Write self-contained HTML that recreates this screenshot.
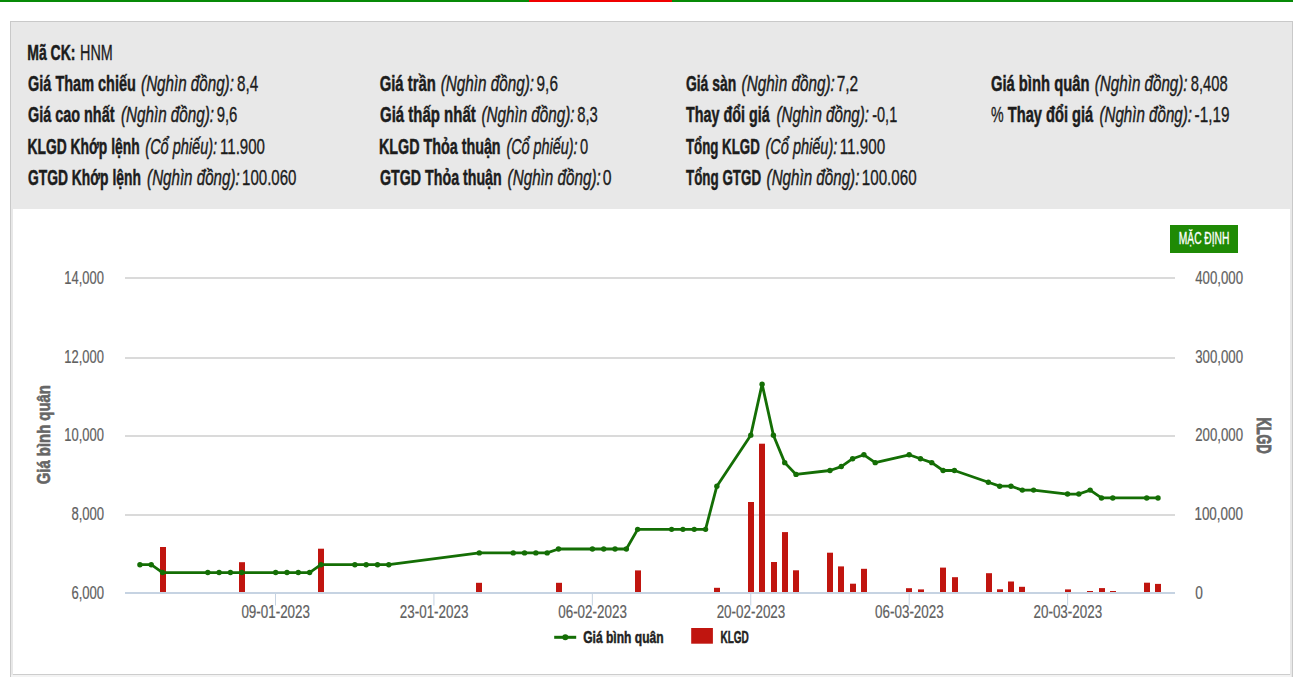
<!DOCTYPE html>
<html><head><meta charset="utf-8"><style>
html,body{margin:0;padding:0;background:#fff;width:1293px;height:677px;overflow:hidden;position:relative}
.abs{position:absolute}
svg text{font-family:"Liberation Sans", sans-serif}
</style></head><body>
<div class="abs" style="left:0;top:0;width:1293px;height:2px;background:#078a07"></div>
<div class="abs" style="left:529px;top:0;width:143px;height:2px;background:#f00000"></div>
<div class="abs" style="left:10px;top:21px;width:1281px;height:660px;border:1px solid #c9c9c9;background:#e8e8e8"></div>
<div class="abs" style="left:13px;top:209px;width:1277px;height:465px;background:#fff;border-bottom:1px solid #cdcdcd"></div>
<div class="abs" style="left:11px;top:675px;width:1280px;height:2px;background:#f3f3f3"></div>
<div class="abs" style="left:1170px;top:225px;width:68px;height:28px;background:#1f8a05"></div>
<svg class="abs" style="left:0;top:0" width="1293" height="677">
<g fill="#dadada"><rect x="125" y="277" width="1050" height="2"/><rect x="125" y="357" width="1050" height="2"/><rect x="125" y="435" width="1050" height="2"/><rect x="125" y="514" width="1050" height="2"/></g>
<g fill="#c0150f"><rect x="160" y="547.00" width="6" height="45.00"/><rect x="239" y="562.20" width="6" height="29.80"/><rect x="318" y="548.70" width="6" height="43.30"/><rect x="476" y="582.80" width="6" height="9.20"/><rect x="556" y="582.80" width="6" height="9.20"/><rect x="635" y="570.40" width="6" height="21.60"/><rect x="714" y="587.80" width="6" height="4.20"/><rect x="748" y="502.00" width="6" height="90.00"/><rect x="759" y="443.70" width="6" height="148.30"/><rect x="771" y="562.00" width="6" height="30.00"/><rect x="782" y="532.10" width="6" height="59.90"/><rect x="793" y="570.30" width="6" height="21.70"/><rect x="827" y="552.70" width="6" height="39.30"/><rect x="838" y="566.40" width="6" height="25.60"/><rect x="850" y="583.70" width="6" height="8.30"/><rect x="861" y="568.80" width="6" height="23.20"/><rect x="906" y="588.20" width="6" height="3.80"/><rect x="918" y="589.40" width="6" height="2.60"/><rect x="940" y="567.60" width="6" height="24.40"/><rect x="952" y="577.20" width="6" height="14.80"/><rect x="986" y="573.20" width="6" height="18.80"/><rect x="997" y="589.30" width="6" height="2.70"/><rect x="1008" y="581.50" width="6" height="10.50"/><rect x="1019" y="586.80" width="6" height="5.20"/><rect x="1065" y="589.40" width="6" height="2.60"/><rect x="1087" y="591.00" width="6" height="1.00"/><rect x="1099" y="588.10" width="6" height="3.90"/><rect x="1110" y="591.00" width="6" height="1.00"/><rect x="1144" y="582.70" width="6" height="9.30"/><rect x="1155" y="583.90" width="6" height="8.10"/></g>
<rect x="125" y="592" width="1050" height="2" fill="#c6d3e2"/>
<g fill="#c6d3e2"><rect x="275.00" y="593" width="1" height="12.5"/><rect x="433.42" y="593" width="1" height="12.5"/><rect x="591.84" y="593" width="1" height="12.5"/><rect x="750.26" y="593" width="1" height="12.5"/><rect x="908.68" y="593" width="1" height="12.5"/><rect x="1067.10" y="593" width="1" height="12.5"/></g>
<path d="M139.93 564.69 L151.25 564.69 L162.56 572.54 L207.81 572.54 L219.12 572.54 L230.43 572.54 L241.74 572.54 L275.68 572.54 L286.99 572.54 L298.30 572.54 L309.62 572.54 L320.93 564.69 L354.87 564.69 L366.18 564.69 L377.49 564.69 L388.80 564.69 L479.30 552.91 L513.24 552.91 L524.55 552.91 L535.86 552.91 L547.17 552.91 L558.49 548.99 L592.42 548.99 L603.73 548.99 L615.05 548.99 L626.36 548.99 L637.67 529.36 L671.61 529.36 L682.92 529.36 L694.23 529.36 L705.54 529.36 L716.86 486.19 L750.79 435.17 L762.10 384.15 L773.42 435.17 L784.73 462.64 L796.04 474.42 L829.98 470.49 L841.29 466.57 L852.60 458.72 L863.91 454.80 L875.23 462.64 L909.16 454.80 L920.48 458.72 L931.79 462.64 L943.10 470.49 L954.41 470.49 L988.35 482.27 L999.66 486.19 L1010.97 486.19 L1022.29 490.12 L1033.60 490.12 L1067.53 494.04 L1078.85 494.04 L1090.16 490.12 L1101.47 497.97 L1112.78 497.97 L1146.72 497.97 L1158.03 497.97" fill="none" stroke="#146e05" stroke-width="2.8" stroke-linejoin="round"/>
<g fill="#146e05"><circle cx="139.93" cy="564.69" r="2.7"/><circle cx="151.25" cy="564.69" r="2.7"/><circle cx="162.56" cy="572.54" r="2.7"/><circle cx="207.81" cy="572.54" r="2.7"/><circle cx="219.12" cy="572.54" r="2.7"/><circle cx="230.43" cy="572.54" r="2.7"/><circle cx="241.74" cy="572.54" r="2.7"/><circle cx="275.68" cy="572.54" r="2.7"/><circle cx="286.99" cy="572.54" r="2.7"/><circle cx="298.30" cy="572.54" r="2.7"/><circle cx="309.62" cy="572.54" r="2.7"/><circle cx="320.93" cy="564.69" r="2.7"/><circle cx="354.87" cy="564.69" r="2.7"/><circle cx="366.18" cy="564.69" r="2.7"/><circle cx="377.49" cy="564.69" r="2.7"/><circle cx="388.80" cy="564.69" r="2.7"/><circle cx="479.30" cy="552.91" r="2.7"/><circle cx="513.24" cy="552.91" r="2.7"/><circle cx="524.55" cy="552.91" r="2.7"/><circle cx="535.86" cy="552.91" r="2.7"/><circle cx="547.17" cy="552.91" r="2.7"/><circle cx="558.49" cy="548.99" r="2.7"/><circle cx="592.42" cy="548.99" r="2.7"/><circle cx="603.73" cy="548.99" r="2.7"/><circle cx="615.05" cy="548.99" r="2.7"/><circle cx="626.36" cy="548.99" r="2.7"/><circle cx="637.67" cy="529.36" r="2.7"/><circle cx="671.61" cy="529.36" r="2.7"/><circle cx="682.92" cy="529.36" r="2.7"/><circle cx="694.23" cy="529.36" r="2.7"/><circle cx="705.54" cy="529.36" r="2.7"/><circle cx="716.86" cy="486.19" r="2.7"/><circle cx="750.79" cy="435.17" r="2.7"/><circle cx="762.10" cy="384.15" r="2.7"/><circle cx="773.42" cy="435.17" r="2.7"/><circle cx="784.73" cy="462.64" r="2.7"/><circle cx="796.04" cy="474.42" r="2.7"/><circle cx="829.98" cy="470.49" r="2.7"/><circle cx="841.29" cy="466.57" r="2.7"/><circle cx="852.60" cy="458.72" r="2.7"/><circle cx="863.91" cy="454.80" r="2.7"/><circle cx="875.23" cy="462.64" r="2.7"/><circle cx="909.16" cy="454.80" r="2.7"/><circle cx="920.48" cy="458.72" r="2.7"/><circle cx="931.79" cy="462.64" r="2.7"/><circle cx="943.10" cy="470.49" r="2.7"/><circle cx="954.41" cy="470.49" r="2.7"/><circle cx="988.35" cy="482.27" r="2.7"/><circle cx="999.66" cy="486.19" r="2.7"/><circle cx="1010.97" cy="486.19" r="2.7"/><circle cx="1022.29" cy="490.12" r="2.7"/><circle cx="1033.60" cy="490.12" r="2.7"/><circle cx="1067.53" cy="494.04" r="2.7"/><circle cx="1078.85" cy="494.04" r="2.7"/><circle cx="1090.16" cy="490.12" r="2.7"/><circle cx="1101.47" cy="497.97" r="2.7"/><circle cx="1112.78" cy="497.97" r="2.7"/><circle cx="1146.72" cy="497.97" r="2.7"/><circle cx="1158.03" cy="497.97" r="2.7"/></g>
<g><rect x="554.2" y="635.8" width="22" height="3" fill="#146e05"/><circle cx="565.3" cy="637.3" r="3" fill="#146e05"/>
<rect x="691.2" y="628" width="21.7" height="15.7" fill="#c0150f"/></g>
<text transform="translate(50.3,434.7) rotate(-90)" text-anchor="middle" font-size="17.5" font-weight="bold" fill="#666" stroke="#666" stroke-width="0.6" textLength="99" lengthAdjust="spacingAndGlyphs">Giá bình quân</text>
<text transform="translate(1256.8,435.6) rotate(90)" text-anchor="middle" font-size="21" font-weight="bold" fill="#666" stroke="#666" stroke-width="0.9" textLength="36" lengthAdjust="spacingAndGlyphs">KLGD</text>
<text x="27.26" y="59.60" font-size="22" font-weight="bold" font-style="normal" fill="#1c1c1c" stroke="#1c1c1c" stroke-width="0.5" textLength="48.23" lengthAdjust="spacingAndGlyphs">Mã CK:</text>
<text x="80.05" y="59.60" font-size="22" font-weight="normal" font-style="normal" fill="#1c1c1c" stroke="#1c1c1c" stroke-width="0.35" textLength="32.68" lengthAdjust="spacingAndGlyphs">HNM</text>
<text x="28.10" y="90.90" font-size="22" font-weight="bold" font-style="normal" fill="#1c1c1c" stroke="#1c1c1c" stroke-width="0.5" textLength="107.74" lengthAdjust="spacingAndGlyphs">Giá Tham chiếu</text>
<text x="141.10" y="90.90" font-size="22" font-weight="normal" font-style="italic" fill="#1c1c1c" stroke="#1c1c1c" stroke-width="0.45" textLength="92.77" lengthAdjust="spacingAndGlyphs">(Nghìn đồng):</text>
<text x="237.00" y="90.90" font-size="22" font-weight="normal" font-style="normal" fill="#1c1c1c" stroke="#1c1c1c" stroke-width="0.35" textLength="21.21" lengthAdjust="spacingAndGlyphs">8,4</text>
<text x="379.70" y="90.90" font-size="22" font-weight="bold" font-style="normal" fill="#1c1c1c" stroke="#1c1c1c" stroke-width="0.5" textLength="56.09" lengthAdjust="spacingAndGlyphs">Giá trần</text>
<text x="440.80" y="90.90" font-size="22" font-weight="normal" font-style="italic" fill="#1c1c1c" stroke="#1c1c1c" stroke-width="0.45" textLength="93.17" lengthAdjust="spacingAndGlyphs">(Nghìn đồng):</text>
<text x="536.60" y="90.90" font-size="22" font-weight="normal" font-style="normal" fill="#1c1c1c" stroke="#1c1c1c" stroke-width="0.35" textLength="21.31" lengthAdjust="spacingAndGlyphs">9,6</text>
<text x="685.90" y="90.90" font-size="22" font-weight="bold" font-style="normal" fill="#1c1c1c" stroke="#1c1c1c" stroke-width="0.5" textLength="50.41" lengthAdjust="spacingAndGlyphs">Giá sàn</text>
<text x="741.60" y="90.90" font-size="22" font-weight="normal" font-style="italic" fill="#1c1c1c" stroke="#1c1c1c" stroke-width="0.45" textLength="93.17" lengthAdjust="spacingAndGlyphs">(Nghìn đồng):</text>
<text x="836.70" y="90.90" font-size="22" font-weight="normal" font-style="normal" fill="#1c1c1c" stroke="#1c1c1c" stroke-width="0.35" textLength="21.52" lengthAdjust="spacingAndGlyphs">7,2</text>
<text x="990.90" y="90.90" font-size="22" font-weight="bold" font-style="normal" fill="#1c1c1c" stroke="#1c1c1c" stroke-width="0.5" textLength="98.55" lengthAdjust="spacingAndGlyphs">Giá bình quân</text>
<text x="1094.80" y="90.90" font-size="22" font-weight="normal" font-style="italic" fill="#1c1c1c" stroke="#1c1c1c" stroke-width="0.45" textLength="92.77" lengthAdjust="spacingAndGlyphs">(Nghìn đồng):</text>
<text x="1190.80" y="90.90" font-size="22" font-weight="normal" font-style="normal" fill="#1c1c1c" stroke="#1c1c1c" stroke-width="0.35" textLength="36.94" lengthAdjust="spacingAndGlyphs">8,408</text>
<text x="28.00" y="122.20" font-size="22" font-weight="bold" font-style="normal" fill="#1c1c1c" stroke="#1c1c1c" stroke-width="0.5" textLength="86.48" lengthAdjust="spacingAndGlyphs">Giá cao nhất</text>
<text x="120.90" y="122.20" font-size="22" font-weight="normal" font-style="italic" fill="#1c1c1c" stroke="#1c1c1c" stroke-width="0.45" textLength="93.17" lengthAdjust="spacingAndGlyphs">(Nghìn đồng):</text>
<text x="216.70" y="122.20" font-size="22" font-weight="normal" font-style="normal" fill="#1c1c1c" stroke="#1c1c1c" stroke-width="0.35" textLength="20.70" lengthAdjust="spacingAndGlyphs">9,6</text>
<text x="380.00" y="122.20" font-size="22" font-weight="bold" font-style="normal" fill="#1c1c1c" stroke="#1c1c1c" stroke-width="0.5" textLength="95.70" lengthAdjust="spacingAndGlyphs">Giá thấp nhất</text>
<text x="481.40" y="122.20" font-size="22" font-weight="normal" font-style="italic" fill="#1c1c1c" stroke="#1c1c1c" stroke-width="0.45" textLength="93.17" lengthAdjust="spacingAndGlyphs">(Nghìn đồng):</text>
<text x="577.20" y="122.20" font-size="22" font-weight="normal" font-style="normal" fill="#1c1c1c" stroke="#1c1c1c" stroke-width="0.35" textLength="20.60" lengthAdjust="spacingAndGlyphs">8,3</text>
<text x="686.00" y="122.20" font-size="22" font-weight="bold" font-style="normal" fill="#1c1c1c" stroke="#1c1c1c" stroke-width="0.5" textLength="83.68" lengthAdjust="spacingAndGlyphs">Thay đổi giá</text>
<text x="776.40" y="122.20" font-size="22" font-weight="normal" font-style="italic" fill="#1c1c1c" stroke="#1c1c1c" stroke-width="0.45" textLength="92.67" lengthAdjust="spacingAndGlyphs">(Nghìn đồng):</text>
<text x="872.20" y="122.20" font-size="22" font-weight="normal" font-style="normal" fill="#1c1c1c" stroke="#1c1c1c" stroke-width="0.35" textLength="25.05" lengthAdjust="spacingAndGlyphs">-0,1</text>
<text x="991.00" y="122.20" font-size="22" font-weight="normal" font-style="normal" fill="#1c1c1c" stroke="#1c1c1c" stroke-width="0.35" textLength="12.62" lengthAdjust="spacingAndGlyphs">%</text>
<text x="1007.80" y="122.20" font-size="22" font-weight="bold" font-style="normal" fill="#1c1c1c" stroke="#1c1c1c" stroke-width="0.5" textLength="85.47" lengthAdjust="spacingAndGlyphs">Thay đổi giá</text>
<text x="1099.50" y="122.20" font-size="22" font-weight="normal" font-style="italic" fill="#1c1c1c" stroke="#1c1c1c" stroke-width="0.45" textLength="92.47" lengthAdjust="spacingAndGlyphs">(Nghìn đồng):</text>
<text x="1194.60" y="122.20" font-size="22" font-weight="normal" font-style="normal" fill="#1c1c1c" stroke="#1c1c1c" stroke-width="0.35" textLength="34.91" lengthAdjust="spacingAndGlyphs">-1,19</text>
<text x="27.47" y="153.50" font-size="22" font-weight="bold" font-style="normal" fill="#1c1c1c" stroke="#1c1c1c" stroke-width="0.5" textLength="112.15" lengthAdjust="spacingAndGlyphs">KLGD Khớp lệnh</text>
<text x="145.30" y="153.50" font-size="22" font-weight="normal" font-style="italic" fill="#1c1c1c" stroke="#1c1c1c" stroke-width="0.45" textLength="71.80" lengthAdjust="spacingAndGlyphs">(Cổ phiếu):</text>
<text x="220.02" y="153.50" font-size="22" font-weight="normal" font-style="normal" fill="#1c1c1c" stroke="#1c1c1c" stroke-width="0.35" textLength="44.95" lengthAdjust="spacingAndGlyphs">11.900</text>
<text x="379.05" y="153.50" font-size="22" font-weight="bold" font-style="normal" fill="#1c1c1c" stroke="#1c1c1c" stroke-width="0.5" textLength="121.54" lengthAdjust="spacingAndGlyphs">KLGD Thỏa thuận</text>
<text x="506.40" y="153.50" font-size="22" font-weight="normal" font-style="italic" fill="#1c1c1c" stroke="#1c1c1c" stroke-width="0.45" textLength="71.20" lengthAdjust="spacingAndGlyphs">(Cổ phiếu):</text>
<text x="580.00" y="153.50" font-size="22" font-weight="normal" font-style="normal" fill="#1c1c1c" stroke="#1c1c1c" stroke-width="0.35" textLength="8.17" lengthAdjust="spacingAndGlyphs">0</text>
<text x="685.90" y="153.50" font-size="22" font-weight="bold" font-style="normal" fill="#1c1c1c" stroke="#1c1c1c" stroke-width="0.5" textLength="73.92" lengthAdjust="spacingAndGlyphs">Tổng KLGD</text>
<text x="765.50" y="153.50" font-size="22" font-weight="normal" font-style="italic" fill="#1c1c1c" stroke="#1c1c1c" stroke-width="0.45" textLength="71.80" lengthAdjust="spacingAndGlyphs">(Cổ phiếu):</text>
<text x="839.71" y="153.50" font-size="22" font-weight="normal" font-style="normal" fill="#1c1c1c" stroke="#1c1c1c" stroke-width="0.35" textLength="45.45" lengthAdjust="spacingAndGlyphs">11.900</text>
<text x="28.00" y="184.80" font-size="22" font-weight="bold" font-style="normal" fill="#1c1c1c" stroke="#1c1c1c" stroke-width="0.5" textLength="112.86" lengthAdjust="spacingAndGlyphs">GTGD Khớp lệnh</text>
<text x="147.10" y="184.80" font-size="22" font-weight="normal" font-style="italic" fill="#1c1c1c" stroke="#1c1c1c" stroke-width="0.45" textLength="92.57" lengthAdjust="spacingAndGlyphs">(Nghìn đồng):</text>
<text x="242.02" y="184.80" font-size="22" font-weight="normal" font-style="normal" fill="#1c1c1c" stroke="#1c1c1c" stroke-width="0.35" textLength="54.45" lengthAdjust="spacingAndGlyphs">100.060</text>
<text x="380.00" y="184.80" font-size="22" font-weight="bold" font-style="normal" fill="#1c1c1c" stroke="#1c1c1c" stroke-width="0.5" textLength="121.73" lengthAdjust="spacingAndGlyphs">GTGD Thỏa thuận</text>
<text x="507.60" y="184.80" font-size="22" font-weight="normal" font-style="italic" fill="#1c1c1c" stroke="#1c1c1c" stroke-width="0.45" textLength="93.17" lengthAdjust="spacingAndGlyphs">(Nghìn đồng):</text>
<text x="602.70" y="184.80" font-size="22" font-weight="normal" font-style="normal" fill="#1c1c1c" stroke="#1c1c1c" stroke-width="0.35" textLength="8.78" lengthAdjust="spacingAndGlyphs">0</text>
<text x="686.00" y="184.80" font-size="22" font-weight="bold" font-style="normal" fill="#1c1c1c" stroke="#1c1c1c" stroke-width="0.5" textLength="75.06" lengthAdjust="spacingAndGlyphs">Tổng GTGD</text>
<text x="766.60" y="184.80" font-size="22" font-weight="normal" font-style="italic" fill="#1c1c1c" stroke="#1c1c1c" stroke-width="0.45" textLength="92.77" lengthAdjust="spacingAndGlyphs">(Nghìn đồng):</text>
<text x="861.81" y="184.80" font-size="22" font-weight="normal" font-style="normal" fill="#1c1c1c" stroke="#1c1c1c" stroke-width="0.35" textLength="54.86" lengthAdjust="spacingAndGlyphs">100.060</text>
<text x="64.36" y="283.90" font-size="17.5" font-weight="normal" font-style="normal" fill="#606060" stroke="#606060" stroke-width="0.2" textLength="39.59" lengthAdjust="spacingAndGlyphs">14,000</text>
<text x="64.36" y="363.10" font-size="17.5" font-weight="normal" font-style="normal" fill="#606060" stroke="#606060" stroke-width="0.2" textLength="39.59" lengthAdjust="spacingAndGlyphs">12,000</text>
<text x="64.36" y="441.20" font-size="17.5" font-weight="normal" font-style="normal" fill="#606060" stroke="#606060" stroke-width="0.2" textLength="39.59" lengthAdjust="spacingAndGlyphs">10,000</text>
<text x="71.40" y="520.20" font-size="17.5" font-weight="normal" font-style="normal" fill="#606060" stroke="#606060" stroke-width="0.2" textLength="32.75" lengthAdjust="spacingAndGlyphs">8,000</text>
<text x="71.40" y="598.70" font-size="17.5" font-weight="normal" font-style="normal" fill="#606060" stroke="#606060" stroke-width="0.2" textLength="32.75" lengthAdjust="spacingAndGlyphs">6,000</text>
<text x="1195.20" y="283.90" font-size="17.5" font-weight="normal" font-style="normal" fill="#606060" stroke="#606060" stroke-width="0.2" textLength="47.80" lengthAdjust="spacingAndGlyphs">400,000</text>
<text x="1195.20" y="363.10" font-size="17.5" font-weight="normal" font-style="normal" fill="#606060" stroke="#606060" stroke-width="0.2" textLength="47.80" lengthAdjust="spacingAndGlyphs">300,000</text>
<text x="1195.20" y="441.20" font-size="17.5" font-weight="normal" font-style="normal" fill="#606060" stroke="#606060" stroke-width="0.2" textLength="47.80" lengthAdjust="spacingAndGlyphs">200,000</text>
<text x="1194.43" y="520.20" font-size="17.5" font-weight="normal" font-style="normal" fill="#606060" stroke="#606060" stroke-width="0.2" textLength="48.57" lengthAdjust="spacingAndGlyphs">100,000</text>
<text x="1195.20" y="598.70" font-size="17.5" font-weight="normal" font-style="normal" fill="#606060" stroke="#606060" stroke-width="0.2" textLength="7.59" lengthAdjust="spacingAndGlyphs">0</text>
<text x="241.40" y="617.90" font-size="17.5" font-weight="normal" font-style="normal" fill="#606060" stroke="#606060" stroke-width="0.2" textLength="68.61" lengthAdjust="spacingAndGlyphs">09-01-2023</text>
<text x="399.82" y="617.90" font-size="17.5" font-weight="normal" font-style="normal" fill="#606060" stroke="#606060" stroke-width="0.2" textLength="68.61" lengthAdjust="spacingAndGlyphs">23-01-2023</text>
<text x="558.24" y="617.90" font-size="17.5" font-weight="normal" font-style="normal" fill="#606060" stroke="#606060" stroke-width="0.2" textLength="68.61" lengthAdjust="spacingAndGlyphs">06-02-2023</text>
<text x="716.66" y="617.90" font-size="17.5" font-weight="normal" font-style="normal" fill="#606060" stroke="#606060" stroke-width="0.2" textLength="68.61" lengthAdjust="spacingAndGlyphs">20-02-2023</text>
<text x="875.08" y="617.90" font-size="17.5" font-weight="normal" font-style="normal" fill="#606060" stroke="#606060" stroke-width="0.2" textLength="68.61" lengthAdjust="spacingAndGlyphs">06-03-2023</text>
<text x="1033.50" y="617.90" font-size="17.5" font-weight="normal" font-style="normal" fill="#606060" stroke="#606060" stroke-width="0.2" textLength="68.61" lengthAdjust="spacingAndGlyphs">20-03-2023</text>
<text x="583.20" y="643.10" font-size="16.5" font-weight="bold" font-style="normal" fill="#222" stroke="#222" stroke-width="0.5" textLength="80.40" lengthAdjust="spacingAndGlyphs">Giá bình quân</text>
<text x="720.50" y="643.10" font-size="16.5" font-weight="bold" font-style="normal" fill="#222" stroke="#222" stroke-width="0.5" textLength="28.35" lengthAdjust="spacingAndGlyphs">KLGD</text>
<text x="1178.80" y="243.70" font-size="16" font-weight="normal" font-style="normal" fill="#fff" stroke="#fff" stroke-width="0.35" textLength="50.57" lengthAdjust="spacingAndGlyphs">MẶC ĐỊNH</text>
</svg>
</body></html>
